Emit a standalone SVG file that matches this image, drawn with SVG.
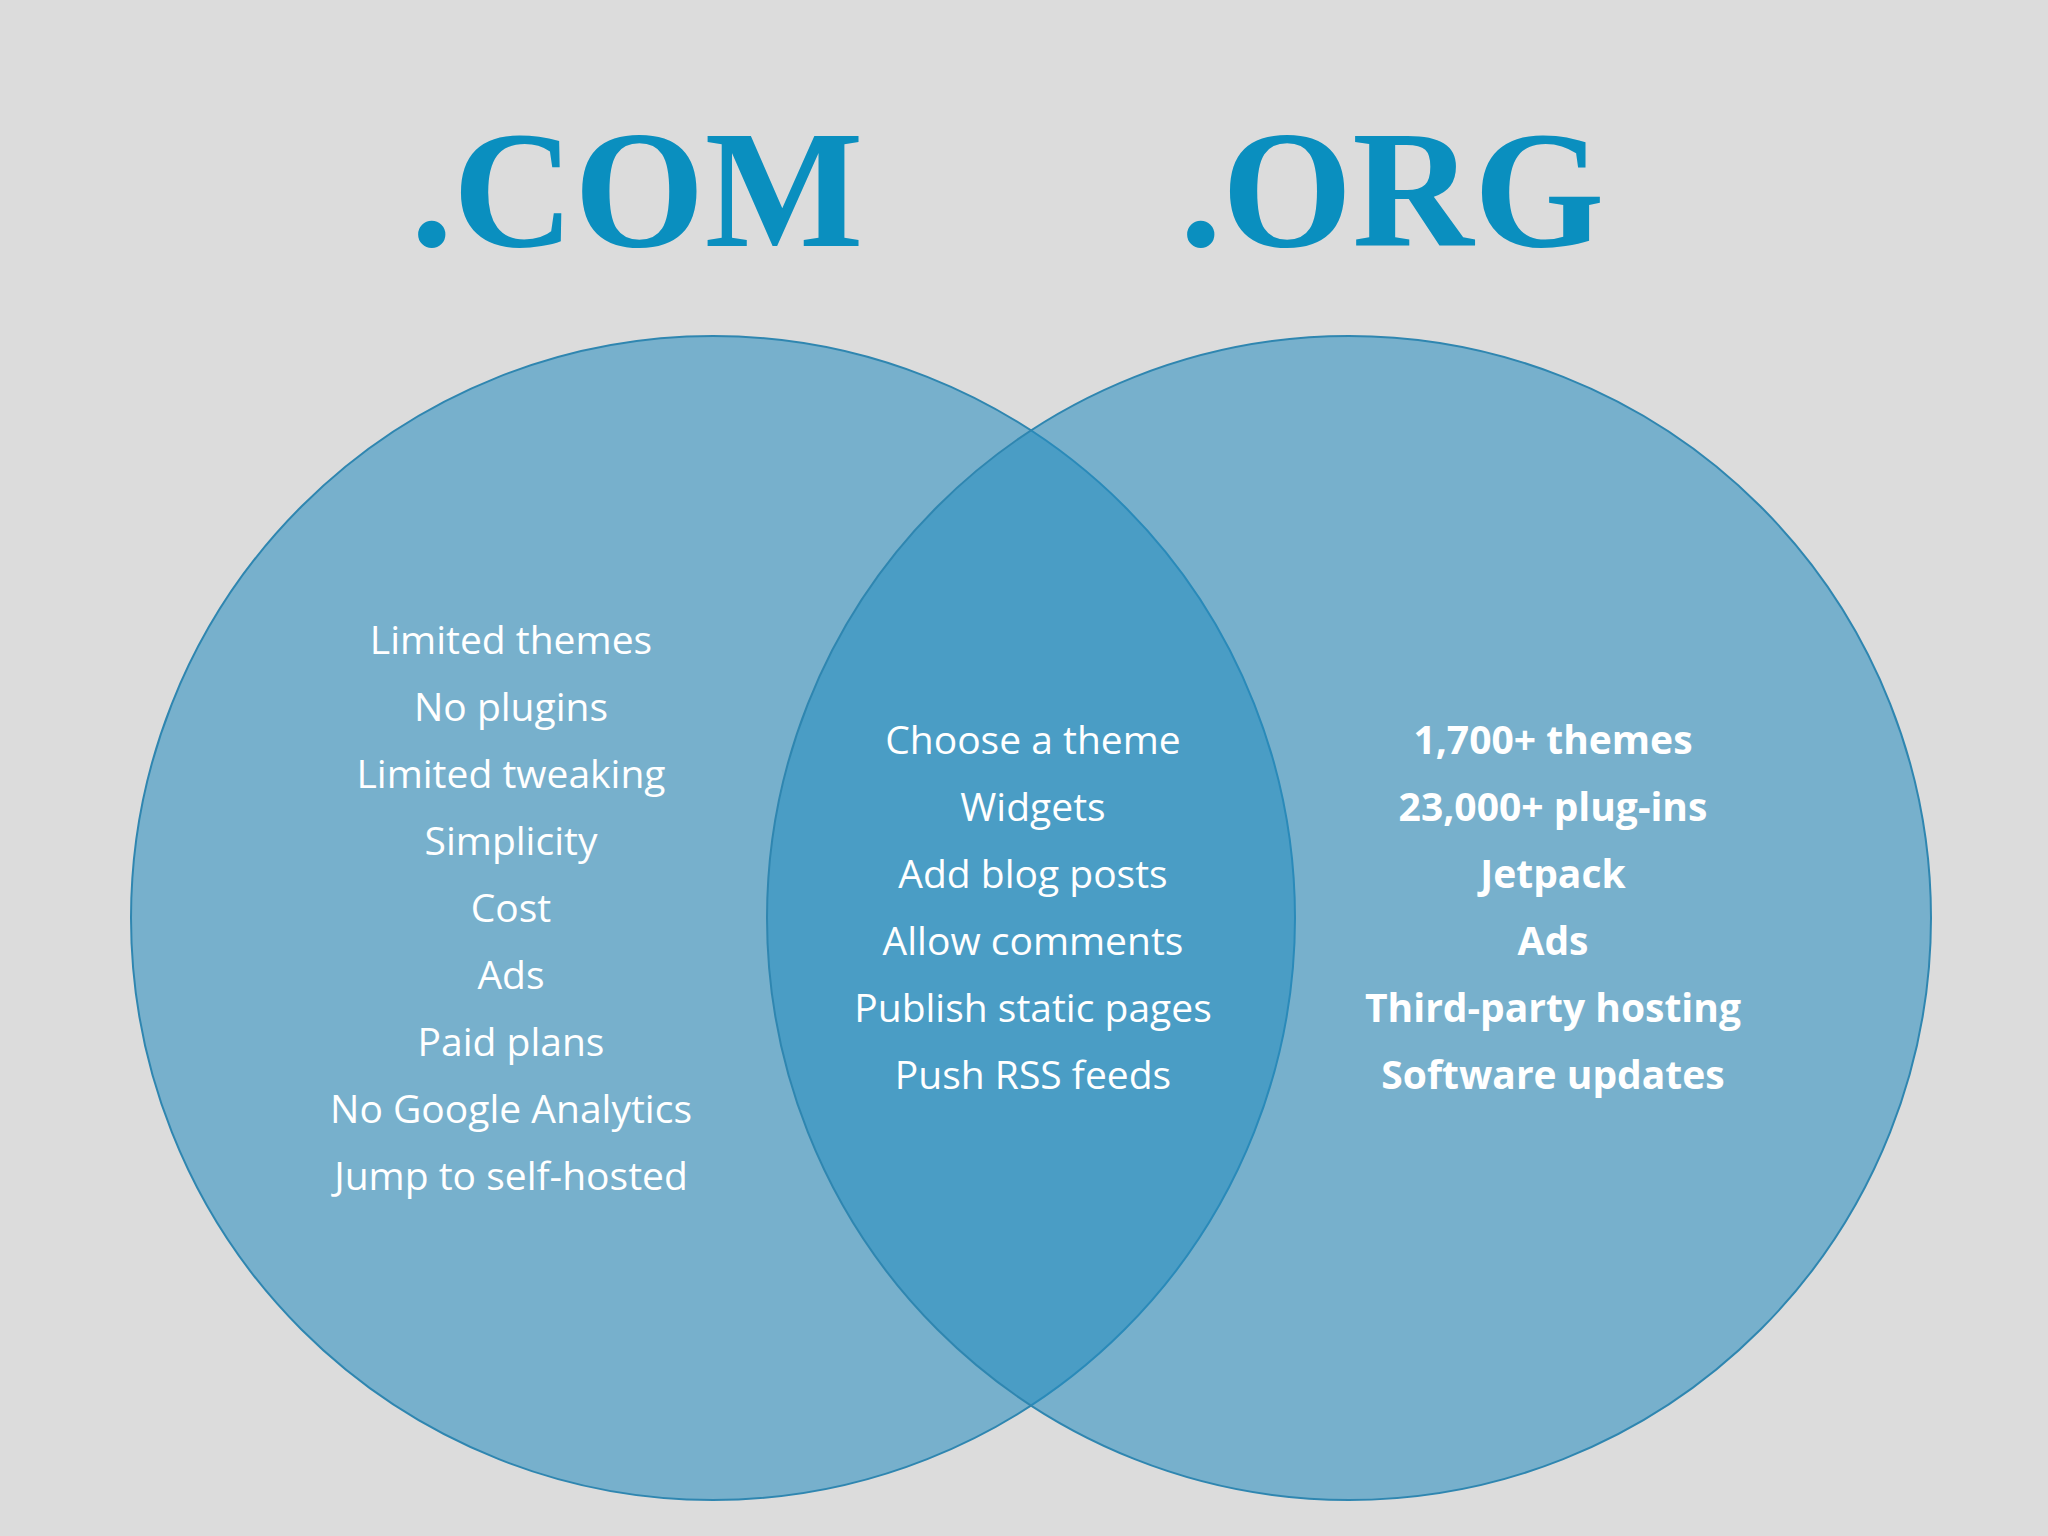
<svg xmlns="http://www.w3.org/2000/svg" width="2048" height="1536" viewBox="0 0 2048 1536">
<style>
.t{font-family:"Liberation Serif","DejaVu Serif",serif;font-weight:bold;font-size:168px;fill:#0a8fbf;text-anchor:middle}
.c{fill:#268dbf;fill-opacity:0.554;stroke:#2f86b0;stroke-width:2}
.l{font-family:"Open Sans","Noto Sans",sans-serif;font-size:39px;fill:#ffffff;text-anchor:middle}
.b{font-weight:bold}
</style>
<rect width="2048" height="1536" fill="#dcdcdc"/>
<g id="title-com"><text class="t" x="637" y="246">.COM</text></g>
<g id="title-org"><text class="t" x="1392" y="246">.ORG</text></g>
<g id="circle-com"><circle class="c" cx="713" cy="918" r="582"/></g>
<g id="circle-org"><circle class="c" cx="1349" cy="918" r="582"/></g>
<g id="connectors"></g>
<g id="list-com" class="l">
<text x="511" y="654">Limited themes</text>
<text x="511" y="721">No plugins</text>
<text x="511" y="788">Limited tweaking</text>
<text x="511" y="855">Simplicity</text>
<text x="511" y="922">Cost</text>
<text x="511" y="989">Ads</text>
<text x="511" y="1056">Paid plans</text>
<text x="511" y="1123">No Google Analytics</text>
<text x="511" y="1190">Jump to self-hosted</text>
</g>
<g id="list-both" class="l">
<text x="1033" y="754">Choose a theme</text>
<text x="1033" y="821">Widgets</text>
<text x="1033" y="888">Add blog posts</text>
<text x="1033" y="955">Allow comments</text>
<text x="1033" y="1022">Publish static pages</text>
<text x="1033" y="1089">Push RSS feeds</text>
</g>
<g id="list-org" class="l b">
<text x="1553" y="754">1,700+ themes</text>
<text x="1553" y="821">23,000+ plug-ins</text>
<text x="1553" y="888">Jetpack</text>
<text x="1553" y="955">Ads</text>
<text x="1553" y="1022">Third-party hosting</text>
<text x="1553" y="1089">Software updates</text>
</g>
</svg>
